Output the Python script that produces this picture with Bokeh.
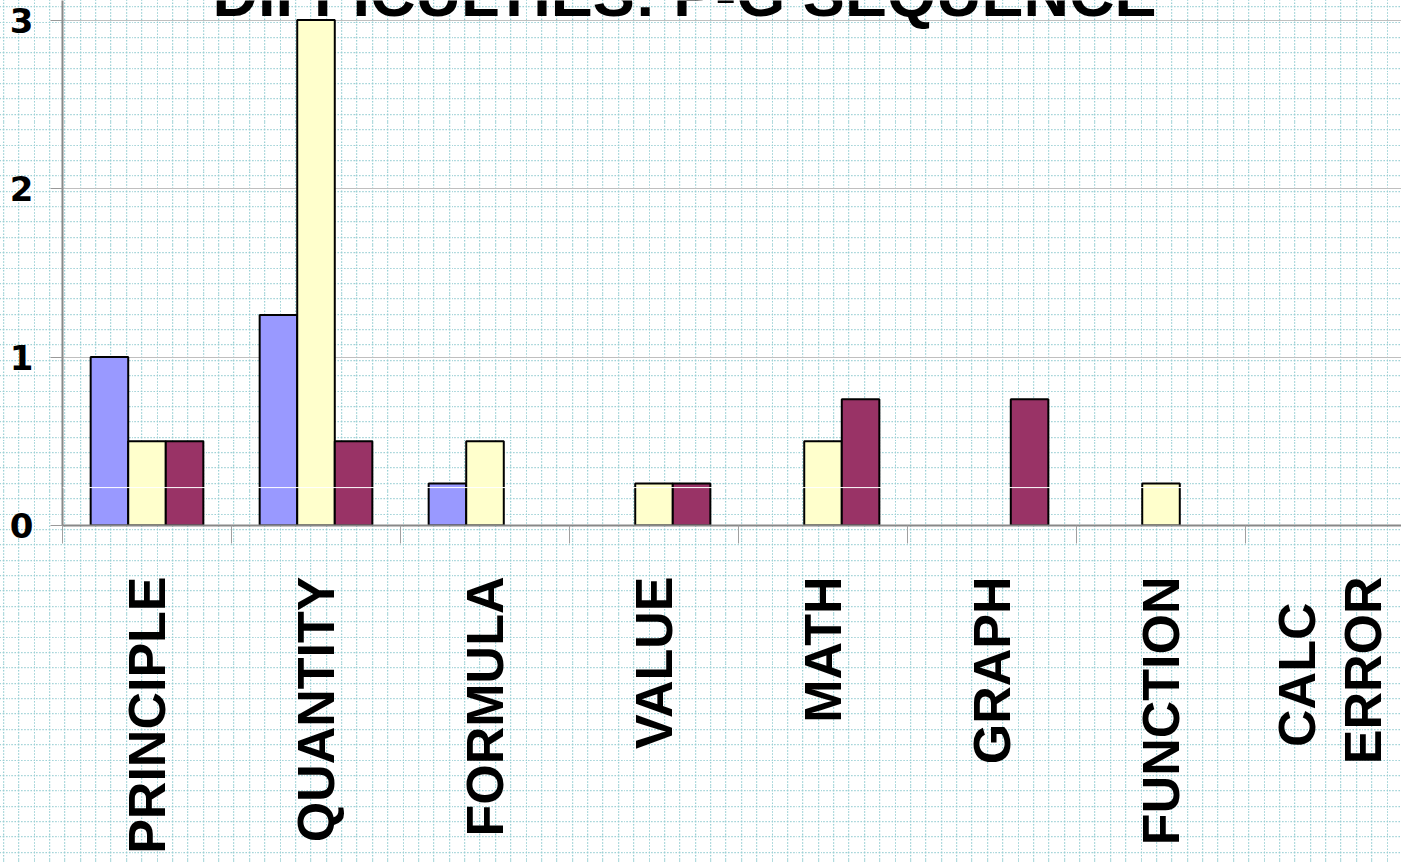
import numpy as np
from bokeh.plotting import figure
from bokeh.models import Range1d, FixedTicker, Label, Span
from bokeh.embed import file_html
from bokeh.resources import INLINE

# ---- data ----
categories = ["PRINCIPLE", "QUANTITY", "FORMULA", "VALUE", "MATH", "GRAPH", "FUNCTION", "CALC\u2002\nERROR"]
series_a = [1.0, 1.25, 0.25, 0.0, 0.0, 0.0, 0.0, 0.0]   # blue
series_b = [0.5, 3.0, 0.5, 0.25, 0.5, 0.0, 0.25, 0.0]   # light yellow
series_c = [0.5, 0.5, 0.0, 0.25, 0.75, 0.75, 0.0, 0.0]  # maroon
y_ticks = [0, 1, 2, 3]
title_text = "DIFFICULTIES: P-G SEQUENCE"

colors = ["#9999FF", "#FFFFCC", "#993366"]
bar_w = 1 / 4.5

p = figure(width=1401, height=862,
           x_range=Range1d(0, 7.923), y_range=Range1d(0, 3.116),
           output_backend="svg", toolbar_location=None,
           min_border_left=62, min_border_right=0, min_border_top=0,
           min_border_bottom=337)
p.title.visible = False
p.outline_line_color = None
p.background_fill_color = None
p.border_fill_color = None

tile = ("<svg xmlns='http://www.w3.org/2000/svg' width='15.38' height='15.38'>"
        "<path d='M0.5 0V15.38M0 0.5H15.38' stroke='%2399cfd4' stroke-width='1.4' "
        "stroke-dasharray='1.4 1.6' fill='none'/></svg>")
p.styles = {
    "background-color": "white",
    "background-image": 'url("data:image/svg+xml;utf8,' + tile + '")',
    "background-size": "15.38px 15.38px",
    "background-position": "2.8px 6.2px",
}

idx = np.arange(len(categories))
for k, (vals, col) in enumerate(zip([series_a, series_b, series_c], colors)):
    v = np.array(vals)
    m = v > 0
    xs = idx[m] + 0.5 + (k - 1) * bar_w
    p.vbar(x=xs, top=v[m], bottom=0, width=bar_w, fill_color=col,
           line_color="black", line_width=2)

p.add_layout(Span(location=0.225, dimension="width", line_color="white", line_width=1))

# x axis
xa = p.xaxis[0]
xa.ticker = FixedTicker(ticks=list(idx + 0.5), minor_ticks=list(range(len(categories) + 1)))
xa.major_label_overrides = {float(i + 0.5): c for i, c in enumerate(categories)}
xa.major_label_orientation = np.pi / 2
xa.major_tick_line_color = None
xa.major_tick_out = 0
xa.major_tick_in = 0
xa.minor_tick_out = 18
xa.minor_tick_in = 0
xa.minor_tick_line_color = "#a0a0a0"
xa.major_label_standoff = 33
xa.major_label_text_font = "Liberation Sans"
xa.major_label_text_font_style = "bold"
xa.major_label_text_font_size = "52px"
xa.major_label_text_color = "black"
xa.major_label_text_line_height = 1.15
xa.axis_line_color = "#888888"
xa.axis_line_width = 2

# y axis
ya = p.yaxis[0]
ya.ticker = FixedTicker(ticks=y_ticks, minor_ticks=[])
ya.major_tick_out = 12
ya.major_tick_in = 0
ya.major_tick_line_color = "#999999"
ya.major_label_standoff = 17
ya.major_label_text_font = "DejaVu Sans"
ya.major_label_text_font_style = "bold"
ya.major_label_text_font_size = "34px"
ya.major_label_text_color = "black"
ya.axis_line_color = "#888888"
ya.axis_line_width = 2

p.xgrid.visible = False
p.ygrid.ticker = FixedTicker(ticks=y_ticks[1:])
p.ygrid.grid_line_color = "#bfbfbf"
p.ygrid.grid_line_width = 1

p.add_layout(Label(x=622, y=532, x_units="screen", y_units="screen", text=title_text,
                   text_align="center", text_baseline="alphabetic",
                   text_font="Liberation Sans", text_font_style="bold",
                   text_font_size="63px", text_color="black"))

open("out.html", "w").write(file_html(p, INLINE))
